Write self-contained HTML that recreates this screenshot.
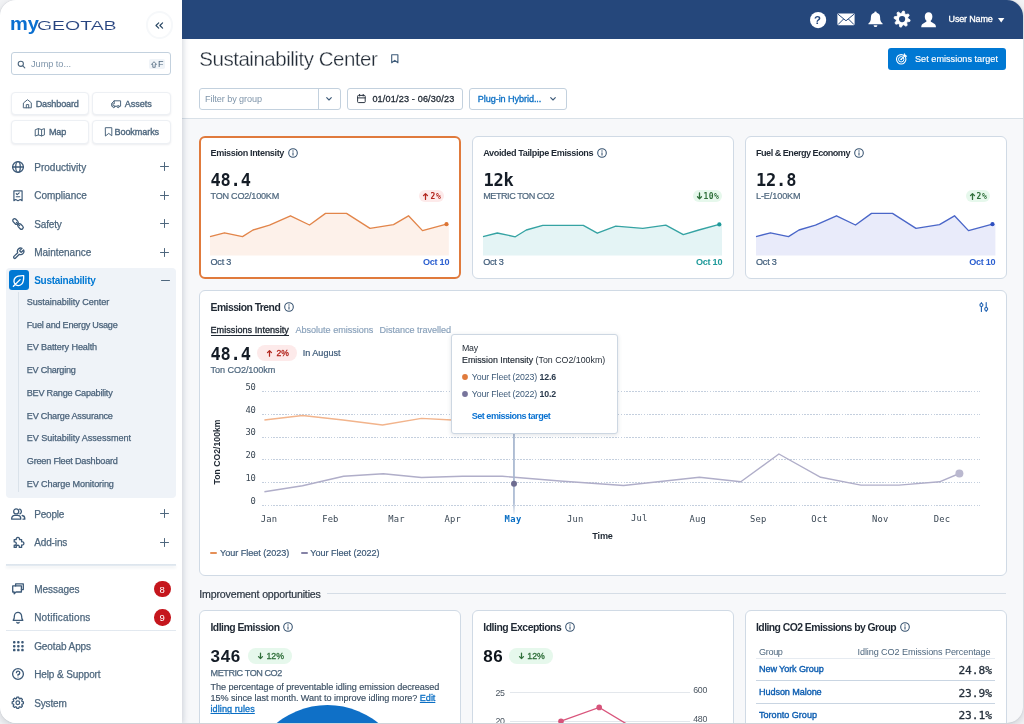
<!DOCTYPE html>
<html lang="en"><head><meta charset="utf-8"><title>Sustainability Center</title>
<style>
html,body{margin:0;padding:0}
body{width:1024px;height:724px;overflow:hidden;position:relative;background:#f3f4f6;font-family:"Liberation Sans",sans-serif;-webkit-font-smoothing:antialiased}
svg{overflow:visible}
</style></head><body>
<div style="position:absolute;left:0;top:0;width:1023px;height:722.5px;border-radius:16px;overflow:hidden;background:#f7f8fa;box-shadow:0 3px 8px rgba(50,60,80,.20),0 0 1.5px rgba(50,60,80,.18)">
<div style="position:absolute;left:182px;top:39px;width:842px;height:79px;background:#fff;border-bottom:1px solid #d9e1e8"></div>
<div style="position:absolute;left:182px;top:0px;width:842px;height:39px;background:#25477b"></div>
<div style="position:absolute;left:0px;top:0px;width:182px;height:724px;background:#fff;box-shadow:1px 0 6px rgba(40,60,90,.22)"></div>
<span style='position:absolute;left:9.80px;top:12.00px;height:25px;line-height:25px;font:700 17.9px/25px "Liberation Sans",sans-serif;color:#0a6fd0;white-space:nowrap;transform:scaleX(1.1215);transform-origin:0 50%;'>my</span>
<span style='position:absolute;left:37.10px;top:16.00px;height:19px;line-height:19px;font:400 13.5px/19px "Liberation Sans",sans-serif;color:#26437f;white-space:nowrap;transform:scaleX(1.4403);transform-origin:0 50%;-webkit-text-stroke:0.12px #fff;'>GEOTAB</span>
<div style="position:absolute;left:145.6px;top:11.3px;width:23.4px;height:23.4px;border-radius:50%;border:2px solid #f6f8fa;background:#fff"></div>
<svg style="position:absolute;left:155.3px;top:21.6px;" width="8.6" height="7" viewBox="0 0 8.6 7" fill="none"><path d="M3.7 0.8 L1 3.5 L3.7 6.2 M7.6 0.8 L4.9 3.5 L7.6 6.2" stroke="#2c4a66" stroke-width="1.2" stroke-linecap="round" stroke-linejoin="round"/></svg>
<div style="position:absolute;left:11px;top:52px;width:158px;height:21px;border:1px solid #c3d1de;border-radius:3px;background:#fff"></div>
<svg style="position:absolute;left:17px;top:60px;" width="9" height="9" viewBox="0 0 9 9" fill="none"><circle cx="3.8" cy="3.8" r="2.6" stroke="#4e677e" stroke-width="1.1"/><path d="M5.8 5.8 L7.8 7.8" stroke="#4e677e" stroke-width="1.1" stroke-linecap="round"/></svg>
<span style='position:absolute;left:31.00px;top:57.70px;height:13px;line-height:13px;font:400 9.2px/13px "Liberation Sans",sans-serif;color:#7f95aa;white-space:nowrap;letter-spacing:-0.034px;'>Jump to...</span>
<div style="position:absolute;left:149px;top:59px;width:16px;height:10px;background:#f0f4f8;border-radius:2px"></div>
<svg style="position:absolute;left:151px;top:60.5px;" width="6" height="7" viewBox="0 0 6 7" fill="none"><path d="M3 0.7 L5.5 3.4 H4.2 V6.3 H1.8 V3.4 H0.5 Z" stroke="#4e677e" stroke-width="0.8" stroke-linejoin="round"/></svg>
<span style='position:absolute;left:158.00px;top:57.50px;height:13px;line-height:13px;font:400 9px/13px "Liberation Sans",sans-serif;color:#4e677e;white-space:nowrap;'>F</span>
<div style="position:absolute;left:10.9px;top:91.8px;width:76.6px;height:21px;border:1px solid #edf0f4;border-radius:4px;background:#fff;box-shadow:0 1px 2px rgba(40,60,90,.09)"></div>
<div style="position:absolute;left:92.2px;top:91.8px;width:76.6px;height:21px;border:1px solid #edf0f4;border-radius:4px;background:#fff;box-shadow:0 1px 2px rgba(40,60,90,.09)"></div>
<div style="position:absolute;left:10.9px;top:120.4px;width:76.6px;height:21.4px;border:1px solid #edf0f4;border-radius:4px;background:#fff;box-shadow:0 1px 2px rgba(40,60,90,.09)"></div>
<div style="position:absolute;left:92.2px;top:120.4px;width:76.6px;height:21.4px;border:1px solid #edf0f4;border-radius:4px;background:#fff;box-shadow:0 1px 2px rgba(40,60,90,.09)"></div>
<svg style="position:absolute;left:23px;top:99px;" width="9" height="9.5" viewBox="0 0 9 9.5" fill="none"><path d="M0.7 3.8 L4.5 0.7 L8.3 3.8 V8.8 H0.7 Z M3.3 8.8 V5.6 H5.7 V8.8" stroke="#4e677e" stroke-width="1" stroke-linecap="round" stroke-linejoin="round"/></svg>
<span style='position:absolute;left:35.70px;top:97.70px;height:13px;line-height:13px;font:400 9.1px/13px "Liberation Sans",sans-serif;color:#4e677e;white-space:nowrap;letter-spacing:-0.167px;-webkit-text-stroke:0.35px #4e677e;'>Dashboard</span>
<svg style="position:absolute;left:111px;top:99.5px;" width="10.5" height="8.5" viewBox="0 0 10.5 8.5" fill="none"><path d="M3.2 0.8 H9.6 V6.2 H8.6 M5.8 6.2 H3.9 M1.6 6.2 H0.7 V3.4 L3.2 0.8 V4 H0.9" stroke="#4e677e" stroke-width="1" stroke-linecap="round" stroke-linejoin="round"/><circle cx="2.8" cy="6.6" r="1.1" stroke="#4e677e" stroke-width="1" stroke-linecap="round" stroke-linejoin="round"/><circle cx="7.2" cy="6.6" r="1.1" stroke="#4e677e" stroke-width="1" stroke-linecap="round" stroke-linejoin="round"/></svg>
<span style='position:absolute;left:124.70px;top:97.70px;height:13px;line-height:13px;font:400 9.1px/13px "Liberation Sans",sans-serif;color:#4e677e;white-space:nowrap;letter-spacing:-0.049px;-webkit-text-stroke:0.35px #4e677e;'>Assets</span>
<svg style="position:absolute;left:35px;top:127.5px;" width="10" height="8.5" viewBox="0 0 10 8.5" fill="none"><path d="M0.6 1.6 L3.4 0.6 L6.6 1.6 L9.4 0.6 V6.9 L6.6 7.9 L3.4 6.9 L0.6 7.9 Z M3.4 0.6 V6.9 M6.6 1.6 V7.9" stroke="#4e677e" stroke-width="1" stroke-linecap="round" stroke-linejoin="round"/></svg>
<span style='position:absolute;left:49.00px;top:126.00px;height:13px;line-height:13px;font:400 9.1px/13px "Liberation Sans",sans-serif;color:#4e677e;white-space:nowrap;letter-spacing:-0.234px;-webkit-text-stroke:0.35px #4e677e;'>Map</span>
<svg style="position:absolute;left:104.6px;top:127px;" width="7.5" height="9.5" viewBox="0 0 7.5 9.5" fill="none"><path d="M0.7 0.7 H6.8 V8.8 L3.75 6.4 L0.7 8.8 Z" stroke="#4e677e" stroke-width="1" stroke-linecap="round" stroke-linejoin="round"/></svg>
<span style='position:absolute;left:114.50px;top:126.00px;height:13px;line-height:13px;font:400 9.1px/13px "Liberation Sans",sans-serif;color:#4e677e;white-space:nowrap;letter-spacing:-0.109px;-webkit-text-stroke:0.35px #4e677e;'>Bookmarks</span>
<svg style="position:absolute;left:11.9px;top:160.6px;" width="12" height="12" viewBox="0 0 12 12" fill="none"><circle cx="6" cy="6" r="5.4" stroke="#3d5a78" stroke-width="1.3" stroke-linecap="round" stroke-linejoin="round"/><ellipse cx="6" cy="6" rx="2.3" ry="5.4" stroke="#3d5a78" stroke-width="1.3" stroke-linecap="round" stroke-linejoin="round"/><path d="M0.6 6 H11.4" stroke="#3d5a78" stroke-width="1.3" stroke-linecap="round" stroke-linejoin="round"/></svg>
<span style='position:absolute;left:34.20px;top:160.50px;height:14px;line-height:14px;font:400 10px/14px "Liberation Sans",sans-serif;color:#4e677e;white-space:nowrap;letter-spacing:0.026px;-webkit-text-stroke:0.25px #4e677e;'>Productivity</span>
<svg style="position:absolute;left:159.9px;top:162.25px;" width="9" height="9" viewBox="0 0 9 9" fill="none"><path d="M4.5 0.5 V8.5 M0.5 4.5 H8.5" stroke="#4e677e" stroke-width="1" stroke-linecap="round"/></svg>
<svg style="position:absolute;left:13.0px;top:190.0px;" width="10" height="11.6" viewBox="0 0 11 12.5" fill="none"><path d="M1 0.8 H10 V11.6 L8 10.3 L5.5 11.6 L3 10.3 L1 11.6 Z" stroke="#3d5a78" stroke-width="1.3" stroke-linecap="round" stroke-linejoin="round"/><path d="M3.6 4 L4.6 5 L6.8 3 M3.6 7.3 H7.4" stroke="#3d5a78" stroke-width="1.3" stroke-linecap="round" stroke-linejoin="round"/></svg>
<span style='position:absolute;left:34.20px;top:189.00px;height:14px;line-height:14px;font:400 10px/14px "Liberation Sans",sans-serif;color:#4e677e;white-space:nowrap;letter-spacing:-0.031px;-webkit-text-stroke:0.25px #4e677e;'>Compliance</span>
<svg style="position:absolute;left:159.9px;top:190.75px;" width="9" height="9" viewBox="0 0 9 9" fill="none"><path d="M4.5 0.5 V8.5 M0.5 4.5 H8.5" stroke="#4e677e" stroke-width="1" stroke-linecap="round"/></svg>
<svg style="position:absolute;left:11.9px;top:217.5px;" width="12" height="12" viewBox="0 0 12 12" fill="none"><rect x="0.4" y="1.7" width="6.2" height="3.6" rx="1.8" transform="rotate(45 3.5 3.5)" stroke="#3d5a78" stroke-width="1.3" stroke-linecap="round" stroke-linejoin="round"/><rect x="5.4" y="6.7" width="6.2" height="3.6" rx="1.8" transform="rotate(45 8.5 8.5)" stroke="#3d5a78" stroke-width="1.3" stroke-linecap="round" stroke-linejoin="round"/><path d="M4.4 4.4 L7.6 7.6" stroke="#3d5a78" stroke-width="1.3" stroke-linecap="round" stroke-linejoin="round"/></svg>
<span style='position:absolute;left:34.20px;top:217.50px;height:14px;line-height:14px;font:400 10px/14px "Liberation Sans",sans-serif;color:#4e677e;white-space:nowrap;letter-spacing:-0.143px;-webkit-text-stroke:0.25px #4e677e;'>Safety</span>
<svg style="position:absolute;left:159.9px;top:219.25px;" width="9" height="9" viewBox="0 0 9 9" fill="none"><path d="M4.5 0.5 V8.5 M0.5 4.5 H8.5" stroke="#4e677e" stroke-width="1" stroke-linecap="round"/></svg>
<svg style="position:absolute;left:11.6px;top:246.5px;" width="13" height="13" viewBox="0 0 24 24" fill="none"><path d="M14.7 6.3a1 1 0 0 0 0 1.4l1.6 1.6a1 1 0 0 0 1.4 0l3.77-3.77a6 6 0 0 1-7.94 7.94l-6.91 6.91a2.12 2.12 0 0 1-3-3l6.91-6.91a6 6 0 0 1 7.94-7.94l-3.76 3.76z" stroke="#3d5a78" stroke-width="2.4" stroke-linecap="round" stroke-linejoin="round"/></svg>
<span style='position:absolute;left:34.20px;top:245.80px;height:14px;line-height:14px;font:400 10px/14px "Liberation Sans",sans-serif;color:#4e677e;white-space:nowrap;letter-spacing:-0.024px;-webkit-text-stroke:0.25px #4e677e;'>Maintenance</span>
<svg style="position:absolute;left:159.9px;top:247.5px;" width="9" height="9" viewBox="0 0 9 9" fill="none"><path d="M4.5 0.5 V8.5 M0.5 4.5 H8.5" stroke="#4e677e" stroke-width="1" stroke-linecap="round"/></svg>
<div style="position:absolute;left:6px;top:268px;width:170px;height:230px;background:#eff3f8;border-radius:4px"></div>
<div style="position:absolute;left:8.5px;top:270.2px;width:20px;height:20px;background:#0078d3;border-radius:3px"></div>
<svg style="position:absolute;left:12.1px;top:273.6px;" width="13.4" height="13.4" viewBox="0 0 12.6 12.6" fill="none"><path d="M3.3 10.1 A4.7 4.7 0 0 1 3.1 3.5 C4.8 1.8 7.8 1.5 11.0 1.6 C11.1 4.8 10.8 7.8 9.1 9.5 A4.7 4.7 0 0 1 3.3 10.1 Z M1.3 11.6 L7.6 5.3" stroke="#fff" stroke-width="1.25" stroke-linecap="round" stroke-linejoin="round"/></svg>
<span style='position:absolute;left:34.20px;top:274.20px;height:14px;line-height:14px;font:700 10px/14px "Liberation Sans",sans-serif;color:#0078d3;white-space:nowrap;letter-spacing:-0.265px;'>Sustainability</span>
<svg style="position:absolute;left:160.5px;top:276px;" width="9" height="9" viewBox="0 0 9 9" fill="none"><path d="M0.5 4.5 H8.5" stroke="#4e677e" stroke-width="1" stroke-linecap="round"/></svg>
<div style="position:absolute;left:17.8px;top:292px;width:1.3px;height:200px;background:#dae2ea"></div>
<span style='position:absolute;left:26.75px;top:295.80px;height:13px;line-height:13px;font:400 9.1px/13px "Liberation Sans",sans-serif;color:#4a627a;white-space:nowrap;letter-spacing:-0.043px;-webkit-text-stroke:0.25px #4a627a;'>Sustainability Center</span>
<span style='position:absolute;left:26.75px;top:318.55px;height:13px;line-height:13px;font:400 9.1px/13px "Liberation Sans",sans-serif;color:#4a627a;white-space:nowrap;letter-spacing:-0.228px;-webkit-text-stroke:0.25px #4a627a;'>Fuel and Energy Usage</span>
<span style='position:absolute;left:26.75px;top:341.30px;height:13px;line-height:13px;font:400 9.1px/13px "Liberation Sans",sans-serif;color:#4a627a;white-space:nowrap;letter-spacing:-0.119px;-webkit-text-stroke:0.25px #4a627a;'>EV Battery Health</span>
<span style='position:absolute;left:26.75px;top:364.05px;height:13px;line-height:13px;font:400 9.1px/13px "Liberation Sans",sans-serif;color:#4a627a;white-space:nowrap;letter-spacing:-0.256px;-webkit-text-stroke:0.25px #4a627a;'>EV Charging</span>
<span style='position:absolute;left:26.75px;top:386.80px;height:13px;line-height:13px;font:400 9.1px/13px "Liberation Sans",sans-serif;color:#4a627a;white-space:nowrap;letter-spacing:-0.212px;-webkit-text-stroke:0.25px #4a627a;'>BEV Range Capability</span>
<span style='position:absolute;left:26.75px;top:409.55px;height:13px;line-height:13px;font:400 9.1px/13px "Liberation Sans",sans-serif;color:#4a627a;white-space:nowrap;letter-spacing:-0.183px;-webkit-text-stroke:0.25px #4a627a;'>EV Charge Assurance</span>
<span style='position:absolute;left:26.75px;top:432.30px;height:13px;line-height:13px;font:400 9.1px/13px "Liberation Sans",sans-serif;color:#4a627a;white-space:nowrap;letter-spacing:-0.036px;-webkit-text-stroke:0.25px #4a627a;'>EV Suitability Assessment</span>
<span style='position:absolute;left:26.75px;top:455.05px;height:13px;line-height:13px;font:400 9.1px/13px "Liberation Sans",sans-serif;color:#4a627a;white-space:nowrap;letter-spacing:-0.193px;-webkit-text-stroke:0.25px #4a627a;'>Green Fleet Dashboard</span>
<span style='position:absolute;left:26.75px;top:477.80px;height:13px;line-height:13px;font:400 9.1px/13px "Liberation Sans",sans-serif;color:#4a627a;white-space:nowrap;letter-spacing:-0.123px;-webkit-text-stroke:0.25px #4a627a;'>EV Charge Monitoring</span>
<svg style="position:absolute;left:11px;top:507.5px;" width="14.5" height="12" viewBox="0 0 14.5 12" fill="none"><circle cx="5.2" cy="3.4" r="2.5" stroke="#3d5a78" stroke-width="1.3" stroke-linecap="round" stroke-linejoin="round"/><path d="M0.7 11.2 V10.3 A3 3 0 0 1 3.7 7.3 H6.7 A3 3 0 0 1 9.7 10.3 V11.2 Z" stroke="#3d5a78" stroke-width="1.3" stroke-linecap="round" stroke-linejoin="round"/><path d="M8.6 1.1 A2.5 2.5 0 0 1 8.9 5.8 M11.2 7.5 A3 3 0 0 1 13.8 10.4 V11.2 H12" stroke="#3d5a78" stroke-width="1.3" stroke-linecap="round" stroke-linejoin="round"/></svg>
<span style='position:absolute;left:34.20px;top:507.50px;height:14px;line-height:14px;font:400 10px/14px "Liberation Sans",sans-serif;color:#4e677e;white-space:nowrap;letter-spacing:-0.190px;-webkit-text-stroke:0.25px #4e677e;'>People</span>
<svg style="position:absolute;left:159.9px;top:509.25px;" width="9" height="9" viewBox="0 0 9 9" fill="none"><path d="M4.5 0.5 V8.5 M0.5 4.5 H8.5" stroke="#4e677e" stroke-width="1" stroke-linecap="round"/></svg>
<svg style="position:absolute;left:11.9px;top:535.5px;" width="12.5" height="12.5" viewBox="0 0 12.5 12.5" fill="none"><path d="M2.2 3.6 H4.3 A1.7 1.7 0 1 1 7.5 3.6 H9.6 V5.8 A1.7 1.7 0 1 1 9.6 9 V11.4 H7.3 A1.6 1.6 0 1 0 4.3 11.4 H2.2 V9.2 A1.7 1.7 0 1 0 2.2 5.9 Z" stroke="#3d5a78" stroke-width="1.3" stroke-linecap="round" stroke-linejoin="round"/></svg>
<span style='position:absolute;left:34.20px;top:535.90px;height:14px;line-height:14px;font:400 10px/14px "Liberation Sans",sans-serif;color:#4e677e;white-space:nowrap;letter-spacing:-0.129px;-webkit-text-stroke:0.25px #4e677e;'>Add-ins</span>
<svg style="position:absolute;left:159.9px;top:537.75px;" width="9" height="9" viewBox="0 0 9 9" fill="none"><path d="M4.5 0.5 V8.5 M0.5 4.5 H8.5" stroke="#4e677e" stroke-width="1" stroke-linecap="round"/></svg>
<div style="position:absolute;left:6px;top:564.3px;width:170px;height:1.6px;background:linear-gradient(#dbe3ec,#e6ecf2);box-shadow:0 2px 3px rgba(40,60,90,.08)"></div>
<svg style="position:absolute;left:11.9px;top:583px;" width="12" height="11.5" viewBox="0 0 12 11.5" fill="none"><path d="M3.6 2.9 V0.8 H11.3 V6.6 H9.4" stroke="#3d5a78" stroke-width="1.3" stroke-linecap="round" stroke-linejoin="round"/><path d="M0.7 2.9 H9.4 V9 H4 L2.2 10.7 V9 H0.7 Z" stroke="#3d5a78" stroke-width="1.3" stroke-linecap="round" stroke-linejoin="round"/></svg>
<span style='position:absolute;left:34.20px;top:582.90px;height:14px;line-height:14px;font:400 10px/14px "Liberation Sans",sans-serif;color:#4e677e;white-space:nowrap;letter-spacing:-0.035px;-webkit-text-stroke:0.25px #4e677e;'>Messages</span>
<div style="position:absolute;left:154px;top:580.75px;width:16.5px;height:16.5px;border-radius:50%;background:#c5161d"></div>
<span style='position:absolute;left:159.60px;top:582.60px;height:13px;line-height:13px;font:400 9.5px/13px "Liberation Sans",sans-serif;color:#fff;white-space:nowrap;'>8</span>
<svg style="position:absolute;left:11.9px;top:611px;" width="12" height="12.5" viewBox="0 0 12 12.5" fill="none"><path d="M1.2 9.3 C2.4 8.2 2.4 7.2 2.4 5 A3.6 3.6 0 0 1 9.6 5 C9.6 7.2 9.6 8.2 10.8 9.3 Z M4.8 11.3 A1.3 1.3 0 0 0 7.2 11.3" stroke="#3d5a78" stroke-width="1.3" stroke-linecap="round" stroke-linejoin="round"/></svg>
<span style='position:absolute;left:34.20px;top:611.20px;height:14px;line-height:14px;font:400 10px/14px "Liberation Sans",sans-serif;color:#4e677e;white-space:nowrap;letter-spacing:0.141px;-webkit-text-stroke:0.25px #4e677e;'>Notifications</span>
<div style="position:absolute;left:154px;top:609px;width:16.5px;height:16.5px;border-radius:50%;background:#c5161d"></div>
<span style='position:absolute;left:159.60px;top:610.90px;height:13px;line-height:13px;font:400 9.5px/13px "Liberation Sans",sans-serif;color:#fff;white-space:nowrap;'>9</span>
<div style="position:absolute;left:6px;top:629.8px;width:170px;height:1.6px;background:linear-gradient(#dbe3ec,#e9eef3)"></div>
<svg style="position:absolute;left:13.1px;top:640.8px;" width="12" height="12" viewBox="0 0 12 12" fill="none"><rect x="0.00" y="0.00" width="2.5" height="2.5" rx="0.9" fill="#3d5a78"/><rect x="0.00" y="3.90" width="2.5" height="2.5" rx="0.9" fill="#3d5a78"/><rect x="0.00" y="7.80" width="2.5" height="2.5" rx="0.9" fill="#3d5a78"/><rect x="4.10" y="0.00" width="2.5" height="2.5" rx="0.9" fill="#3d5a78"/><rect x="4.10" y="3.90" width="2.5" height="2.5" rx="0.9" fill="#3d5a78"/><rect x="4.10" y="7.80" width="2.5" height="2.5" rx="0.9" fill="#3d5a78"/><rect x="8.20" y="0.00" width="2.5" height="2.5" rx="0.9" fill="#3d5a78"/><rect x="8.20" y="3.90" width="2.5" height="2.5" rx="0.9" fill="#3d5a78"/><rect x="8.20" y="7.80" width="2.5" height="2.5" rx="0.9" fill="#3d5a78"/></svg>
<span style='position:absolute;left:34.20px;top:639.70px;height:14px;line-height:14px;font:400 10px/14px "Liberation Sans",sans-serif;color:#4e677e;white-space:nowrap;letter-spacing:-0.093px;-webkit-text-stroke:0.25px #4e677e;'>Geotab Apps</span>
<svg style="position:absolute;left:12.3px;top:668.3px;" width="12" height="12" viewBox="0 0 12 12" fill="none"><circle cx="6" cy="6" r="5.4" stroke="#3d5a78" stroke-width="1.3" stroke-linecap="round" stroke-linejoin="round"/><path d="M4.4 4.7 A1.7 1.7 0 1 1 6 6.5 V7.3" stroke="#3d5a78" stroke-width="1.3" stroke-linecap="round" stroke-linejoin="round"/><circle cx="6" cy="9" r="0.6" fill="#3d5a78"/></svg>
<span style='position:absolute;left:34.20px;top:668.00px;height:14px;line-height:14px;font:400 10px/14px "Liberation Sans",sans-serif;color:#4e677e;white-space:nowrap;letter-spacing:-0.109px;-webkit-text-stroke:0.25px #4e677e;'>Help &amp; Support</span>
<svg style="position:absolute;left:12.4px;top:697.0px;" width="11.6" height="11.6" viewBox="0 0 12 12" fill="none"><path d="M4.64 1.61 L5.00 0.19 L7.00 0.19 L7.36 1.61 L8.15 1.93 L9.41 1.18 L10.82 2.59 L10.07 3.85 L10.39 4.64 L11.81 5.00 L11.81 7.00 L10.39 7.36 L10.07 8.15 L10.82 9.41 L9.41 10.82 L8.15 10.07 L7.36 10.39 L7.00 11.81 L5.00 11.81 L4.64 10.39 L3.85 10.07 L2.59 10.82 L1.18 9.41 L1.93 8.15 L1.61 7.36 L0.19 7.00 L0.19 5.00 L1.61 4.64 L1.93 3.85 L1.18 2.59 L2.59 1.18 L3.85 1.93 Z" stroke="#3d5a78" stroke-width="1.3" stroke-linecap="round" stroke-linejoin="round"/><circle cx="6" cy="6" r="1.9" stroke="#3d5a78" stroke-width="1.3" stroke-linecap="round" stroke-linejoin="round"/></svg>
<span style='position:absolute;left:34.20px;top:696.60px;height:14px;line-height:14px;font:400 10px/14px "Liberation Sans",sans-serif;color:#4e677e;white-space:nowrap;letter-spacing:-0.141px;-webkit-text-stroke:0.25px #4e677e;'>System</span>
<svg style="position:absolute;left:809.5px;top:11.7px;" width="16.2" height="16.2" viewBox="0 0 16.2 16.2" fill="none"><circle cx="8.1" cy="8.1" r="8.1" fill="#fff"/></svg>
<span style='position:absolute;left:814.12px;top:11.90px;height:16px;line-height:16px;font:700 11.4px/16px "Liberation Sans",sans-serif;color:#25477b;white-space:nowrap;'>?</span>
<svg style="position:absolute;left:837.2px;top:12.6px;" width="18" height="12.6" viewBox="0 0 18 12.6" fill="none"><rect x="0.4" y="0.4" width="17.2" height="11.8" rx="1" fill="#fff"/><path d="M1 1.2 L9 7.8 L17 1.2 M1 11.6 L6.6 6 M17 11.6 L11.4 6" stroke="#25477b" stroke-width="1" fill="none"/></svg>
<svg style="position:absolute;left:867.5px;top:11.2px;" width="15" height="16.5" viewBox="0 0 15 16.5" fill="none"><path d="M7.5 0.4 A1.2 1.2 0 0 1 8.7 1.7 A4.6 4.6 0 0 1 12.1 6.2 C12.1 10 13 11.2 14.6 12.4 V13.2 H0.4 V12.4 C2 11.2 2.9 10 2.9 6.2 A4.6 4.6 0 0 1 6.3 1.7 A1.2 1.2 0 0 1 7.5 0.4 Z M5.6 14.2 H9.4 A1.9 1.9 0 0 1 5.6 14.2 Z" fill="#fff"/></svg>
<svg style="position:absolute;left:894.3px;top:11.4px;" width="16.2" height="16.2" viewBox="0 0 16.2 16.2" fill="none"><path d="M8.89 0.04 L10.45 0.35 L10.88 2.90 L11.84 3.54 L14.36 2.96 L15.24 4.28 L13.75 6.39 L13.97 7.52 L16.16 8.89 L15.85 10.45 L13.30 10.88 L12.66 11.84 L13.24 14.36 L11.92 15.24 L9.81 13.75 L8.68 13.97 L7.31 16.16 L5.75 15.85 L5.32 13.30 L4.36 12.66 L1.84 13.24 L0.96 11.92 L2.45 9.81 L2.23 8.68 L0.04 7.31 L0.35 5.75 L2.90 5.32 L3.54 4.36 L2.96 1.84 L4.28 0.96 L6.39 2.45 L7.52 2.23 Z" fill="#fff" stroke="#fff" stroke-width="0.8" stroke-linejoin="round"/><circle cx="8.1" cy="8.1" r="3.1" fill="#25477b"/></svg>
<svg style="position:absolute;left:921.2px;top:11.6px;" width="15.2" height="15.4" viewBox="0 0 15.2 15.4" fill="none"><path d="M7.6 0.2 C10 0.2 11.4 2 11.4 4.4 C11.4 6.4 10.6 8 9.6 8.8 C9.8 9.8 10.4 10.2 12 10.9 C14 11.7 15 12.8 15 15.2 H0.2 C0.2 12.8 1.2 11.7 3.2 10.9 C4.8 10.2 5.4 9.8 5.6 8.8 C4.6 8 3.8 6.4 3.8 4.4 C3.8 2 5.2 0.2 7.6 0.2 Z" fill="#fff"/></svg>
<span style='position:absolute;left:948.60px;top:12.90px;height:13px;line-height:13px;font:400 9px/13px "Liberation Sans",sans-serif;color:#fff;white-space:nowrap;letter-spacing:-0.168px;-webkit-text-stroke:0.3px #fff;'>User Name</span>
<svg style="position:absolute;left:998px;top:17.6px;" width="6.4" height="4.4" viewBox="0 0 6.4 4.4" fill="none"><path d="M0 0 H6.4 L3.2 4.4 Z" fill="#fff"/></svg>
<div style="position:absolute;left:888.1px;top:47.9px;width:118px;height:22.2px;background:#0078d3;border-radius:3px"></div>
<svg style="position:absolute;left:895.8px;top:52.8px;" width="11.5" height="11.5" viewBox="0 0 11.5 11.5" fill="none"><circle cx="5.2" cy="6.3" r="4.7" stroke="#fff" stroke-width="1.1"/><circle cx="5.2" cy="6.3" r="2.7" stroke="#fff" stroke-width="1"/><circle cx="5.2" cy="6.3" r="0.9" fill="#fff"/><path d="M5.2 6.3 L9.4 2.1 M8.4 0.9 V3.1 H10.6" stroke="#fff" stroke-width="1.1" stroke-linecap="round" stroke-linejoin="round"/></svg>
<span style='position:absolute;left:915.00px;top:52.90px;height:13px;line-height:13px;font:400 9.1px/13px "Liberation Sans",sans-serif;color:#fff;white-space:nowrap;letter-spacing:0.030px;-webkit-text-stroke:0.15px #fff;'>Set emissions target</span>
<span style='position:absolute;left:199.30px;top:44.30px;height:30px;line-height:30px;font:400 20.5px/30px "Liberation Sans",sans-serif;color:#232c37;white-space:nowrap;letter-spacing:-0.477px;-webkit-text-stroke:0.3px #fff;'>Sustainability Center</span>
<svg style="position:absolute;left:391.2px;top:54.4px;" width="7.6" height="9.6" viewBox="0 0 7.6 9.6" fill="none"><path d="M0.7 0.7 H6.9 V8.8 L3.8 6.4 L0.7 8.8 Z" stroke="#3d5a78" stroke-width="1.1" stroke-linejoin="round"/></svg>
<div style="position:absolute;left:199.3px;top:87.8px;width:141.7px;height:22.4px;border:1px solid #c3d1de;border-radius:3px;background:#fff;box-sizing:border-box"></div>
<div style="position:absolute;left:317.8px;top:88.3px;width:1px;height:21.4px;background:#c3d1de"></div>
<span style='position:absolute;left:205.00px;top:92.60px;height:13px;line-height:13px;font:400 9.1px/13px "Liberation Sans",sans-serif;color:#7f95aa;white-space:nowrap;letter-spacing:-0.075px;'>Filter by group</span>
<svg style="position:absolute;left:326.4px;top:97.3px;" width="6" height="4" viewBox="0 0 6 4" fill="none"><path d="M0.7 0.7 L3 3 L5.3 0.7" stroke="#3d5a78" stroke-width="1.1" stroke-linecap="round" stroke-linejoin="round"/></svg>
<div style="position:absolute;left:347px;top:87.8px;width:116.2px;height:22.4px;border:1px solid #c3d1de;border-radius:3px;background:#fff;box-sizing:border-box"></div>
<svg style="position:absolute;left:356.8px;top:94.4px;" width="8.8" height="9.2" viewBox="0 0 8.8 9.2" fill="none"><rect x="0.6" y="1.4" width="7.6" height="7.2" rx="0.9" stroke="#2a3440" stroke-width="1"/><path d="M0.6 3.9 H8.2 M2.6 0.4 V2 M6.2 0.4 V2" stroke="#2a3440" stroke-width="1" stroke-linecap="round"/></svg>
<span style='position:absolute;left:372.40px;top:92.60px;height:13px;line-height:13px;font:400 9.1px/13px "Liberation Sans",sans-serif;color:#1f2833;white-space:nowrap;letter-spacing:0.164px;-webkit-text-stroke:0.3px #1f2833;'>01/01/23 - 06/30/23</span>
<div style="position:absolute;left:469px;top:87.8px;width:98px;height:22.4px;border:1px solid #c3d1de;border-radius:3px;background:#fff;box-sizing:border-box"></div>
<span style='position:absolute;left:477.80px;top:92.60px;height:13px;line-height:13px;font:400 9.1px/13px "Liberation Sans",sans-serif;color:#0b6fc4;white-space:nowrap;letter-spacing:-0.071px;-webkit-text-stroke:0.3px #0b6fc4;'>Plug-in Hybrid...</span>
<svg style="position:absolute;left:550px;top:97.3px;" width="6" height="4" viewBox="0 0 6 4" fill="none"><path d="M0.7 0.7 L3 3 L5.3 0.7" stroke="#3d5a78" stroke-width="1.1" stroke-linecap="round" stroke-linejoin="round"/></svg>
<div style="position:absolute;left:198.8px;top:135.7px;width:262px;height:143.1px;background:#fff;border:2px solid #e07a3c;border-radius:6px;box-sizing:border-box"></div>
<span style='position:absolute;left:210.50px;top:146.50px;height:13px;line-height:13px;font:700 9.1px/13px "Liberation Sans",sans-serif;color:#1f2833;white-space:nowrap;letter-spacing:-0.381px;'>Emission Intensity</span>
<svg style="position:absolute;left:287.5px;top:147.9px;" width="10" height="10" viewBox="0 0 10 10" fill="none"><circle cx="5" cy="5" r="4.3" stroke="#34506e" stroke-width="1.05"/><path d="M5 4.7 V7.1" stroke="#34506e" stroke-width="1.05" stroke-linecap="round"/><circle cx="5" cy="3" r="0.65" fill="#34506e"/></svg>
<span style='position:absolute;left:210.50px;top:168.50px;height:22px;line-height:22px;font:700 17px/22px "DejaVu Sans Mono","Liberation Mono",monospace;color:#141c26;white-space:nowrap;letter-spacing:-0.188px;'>48.4</span>
<span style='position:absolute;left:210.50px;top:189.80px;height:13px;line-height:13px;font:400 9.1px/13px "Liberation Sans",sans-serif;color:#4e677e;white-space:nowrap;letter-spacing:-0.239px;-webkit-text-stroke:0.2px #4e677e;'>TON CO2/100KM</span>
<div style="position:absolute;left:418.9px;top:189.79999999999998px;width:25.400000000000034px;height:11.8px;background:#fdeaea;border-radius:5.9px"></div>
<svg style="position:absolute;left:423.4px;top:192.60000000000002px;" width="5" height="6.4" viewBox="0 0 5 6.4" fill="none"><path d="M2.5 6.4 V0.6 M0.5 2.6 L2.5 0.6 L4.5 2.6" stroke="#b3261e" stroke-width="1.3" stroke-linecap="round" stroke-linejoin="round"/></svg>
<span style='position:absolute;left:430.40px;top:190.60px;height:11px;line-height:11px;font:700 8px/11px "DejaVu Sans Mono","Liberation Mono",monospace;color:#b3261e;white-space:nowrap;letter-spacing:0.680px;'>2%</span>
<svg style="position:absolute;left:210.0px;top:208px;" width="238.8" height="47.5" viewBox="0 0 238.8 47.5" fill="none"><path d="M0.0 28.6 L14.5 24.8 L32.5 28.6 L43.0 22.0 L59.5 17.2 L80.5 7.8 L99.5 17.0 L115.5 5.4 L136.5 5.4 L160.0 20.4 L183.5 16.6 L198.5 7.8 L212.5 22.6 L236.5 16.2 L238.8 16.2 L238.8 47.5 L0 47.5 Z" fill="#fdf1ea"/><path d="M0.0 28.6 L14.5 24.8 L32.5 28.6 L43.0 22.0 L59.5 17.2 L80.5 7.8 L99.5 17.0 L115.5 5.4 L136.5 5.4 L160.0 20.4 L183.5 16.6 L198.5 7.8 L212.5 22.6 L236.5 16.2" stroke="#e2854a" stroke-width="1.35" stroke-linejoin="round" fill="none"/><circle cx="236.5" cy="16.2" r="2.1" fill="#dc7434"/></svg>
<span style='position:absolute;left:210.50px;top:255.60px;height:13px;line-height:13px;font:400 9.1px/13px "Liberation Sans",sans-serif;color:#3d5a78;white-space:nowrap;letter-spacing:-0.247px;-webkit-text-stroke:0.2px #3d5a78;'>Oct 3</span>
<span style='position:absolute;left:423.00px;top:255.60px;height:13px;line-height:13px;font:700 9.1px/13px "Liberation Sans",sans-serif;color:#2b5fd0;white-space:nowrap;letter-spacing:-0.269px;'>Oct 10</span>
<div style="position:absolute;left:471.8px;top:135.7px;width:262px;height:143.1px;background:#fff;border:1.4px solid #d0dae5;border-radius:6px;box-sizing:border-box"></div>
<span style='position:absolute;left:483.20px;top:146.50px;height:13px;line-height:13px;font:700 9.1px/13px "Liberation Sans",sans-serif;color:#1f2833;white-space:nowrap;letter-spacing:-0.376px;'>Avoided Tailpipe Emissions</span>
<svg style="position:absolute;left:596.9px;top:147.9px;" width="10" height="10" viewBox="0 0 10 10" fill="none"><circle cx="5" cy="5" r="4.3" stroke="#34506e" stroke-width="1.05"/><path d="M5 4.7 V7.1" stroke="#34506e" stroke-width="1.05" stroke-linecap="round"/><circle cx="5" cy="3" r="0.65" fill="#34506e"/></svg>
<span style='position:absolute;left:483.50px;top:168.50px;height:22px;line-height:22px;font:700 17px/22px "DejaVu Sans Mono","Liberation Mono",monospace;color:#141c26;white-space:nowrap;letter-spacing:-0.173px;'>12k</span>
<span style='position:absolute;left:483.20px;top:189.80px;height:13px;line-height:13px;font:400 9.1px/13px "Liberation Sans",sans-serif;color:#4e677e;white-space:nowrap;letter-spacing:-0.463px;-webkit-text-stroke:0.2px #4e677e;'>METRIC TON CO2</span>
<div style="position:absolute;left:692.5px;top:189.79999999999998px;width:29.700000000000045px;height:11.8px;background:#e6f8ec;border-radius:5.9px"></div>
<svg style="position:absolute;left:696.8px;top:192.60000000000002px;" width="5" height="6.4" viewBox="0 0 5 6.4" fill="none"><path d="M2.5 0 V5.800000000000001 M0.5 3.8000000000000003 L2.5 5.800000000000001 L4.5 3.8000000000000003" stroke="#2f6f3a" stroke-width="1.3" stroke-linecap="round" stroke-linejoin="round"/></svg>
<span style='position:absolute;left:703.40px;top:190.60px;height:11px;line-height:11px;font:700 8px/11px "DejaVu Sans Mono","Liberation Mono",monospace;color:#2f6f3a;white-space:nowrap;letter-spacing:0.516px;'>10%</span>
<svg style="position:absolute;left:483.2px;top:208px;" width="239.00000000000006" height="47.5" viewBox="0 0 239.00000000000006 47.5" fill="none"><path d="M0.0 28.6 L14.3 25.0 L32.3 28.8 L43.3 22.0 L59.8 17.4 L100.3 17.4 L114.3 25.2 L132.8 18.2 L159.8 20.4 L182.8 17.2 L200.3 26.6 L215.8 22.0 L236.3 16.4 L239.0 16.4 L239.0 47.5 L0 47.5 Z" fill="#e4f4f5"/><path d="M0.0 28.6 L14.3 25.0 L32.3 28.8 L43.3 22.0 L59.8 17.4 L100.3 17.4 L114.3 25.2 L132.8 18.2 L159.8 20.4 L182.8 17.2 L200.3 26.6 L215.8 22.0 L236.3 16.4" stroke="#35a3a3" stroke-width="1.35" stroke-linejoin="round" fill="none"/><circle cx="236.3" cy="16.4" r="2.1" fill="#1f9a9a"/></svg>
<span style='position:absolute;left:483.20px;top:255.60px;height:13px;line-height:13px;font:400 9.1px/13px "Liberation Sans",sans-serif;color:#3d5a78;white-space:nowrap;letter-spacing:-0.247px;-webkit-text-stroke:0.2px #3d5a78;'>Oct 3</span>
<span style='position:absolute;left:696.00px;top:255.60px;height:13px;line-height:13px;font:700 9.1px/13px "Liberation Sans",sans-serif;color:#1f9a9a;white-space:nowrap;letter-spacing:-0.269px;'>Oct 10</span>
<div style="position:absolute;left:744.8px;top:135.7px;width:262px;height:143.1px;background:#fff;border:1.4px solid #d0dae5;border-radius:6px;box-sizing:border-box"></div>
<span style='position:absolute;left:756.00px;top:146.50px;height:13px;line-height:13px;font:700 9.1px/13px "Liberation Sans",sans-serif;color:#1f2833;white-space:nowrap;letter-spacing:-0.505px;'>Fuel &amp; Energy Economy</span>
<svg style="position:absolute;left:854.2px;top:147.9px;" width="10" height="10" viewBox="0 0 10 10" fill="none"><circle cx="5" cy="5" r="4.3" stroke="#34506e" stroke-width="1.05"/><path d="M5 4.7 V7.1" stroke="#34506e" stroke-width="1.05" stroke-linecap="round"/><circle cx="5" cy="3" r="0.65" fill="#34506e"/></svg>
<span style='position:absolute;left:756.00px;top:168.50px;height:22px;line-height:22px;font:700 17px/22px "DejaVu Sans Mono","Liberation Mono",monospace;color:#141c26;white-space:nowrap;letter-spacing:-0.188px;'>12.8</span>
<span style='position:absolute;left:756.00px;top:189.80px;height:13px;line-height:13px;font:400 9.1px/13px "Liberation Sans",sans-serif;color:#4e677e;white-space:nowrap;letter-spacing:-0.111px;-webkit-text-stroke:0.2px #4e677e;'>L-E/100KM</span>
<div style="position:absolute;left:965.6px;top:189.79999999999998px;width:24.399999999999977px;height:11.8px;background:#e6f8ec;border-radius:5.9px"></div>
<svg style="position:absolute;left:969.8px;top:192.60000000000002px;" width="5" height="6.4" viewBox="0 0 5 6.4" fill="none"><path d="M2.5 6.4 V0.6 M0.5 2.6 L2.5 0.6 L4.5 2.6" stroke="#2f6f3a" stroke-width="1.3" stroke-linecap="round" stroke-linejoin="round"/></svg>
<span style='position:absolute;left:976.40px;top:190.60px;height:11px;line-height:11px;font:700 8px/11px "DejaVu Sans Mono","Liberation Mono",monospace;color:#2f6f3a;white-space:nowrap;letter-spacing:0.680px;'>2%</span>
<svg style="position:absolute;left:756px;top:208px;" width="239.39999999999998" height="47.5" viewBox="0 0 239.39999999999998 47.5" fill="none"><path d="M0.0 28.6 L14.5 24.8 L32.5 28.6 L43.0 22.0 L59.5 17.2 L80.5 7.8 L99.5 17.0 L115.5 5.4 L136.5 5.4 L160.0 20.4 L183.5 16.6 L198.5 7.8 L212.5 22.6 L236.5 16.2 L239.4 16.2 L239.4 47.5 L0 47.5 Z" fill="#e9ebfa"/><path d="M0.0 28.6 L14.5 24.8 L32.5 28.6 L43.0 22.0 L59.5 17.2 L80.5 7.8 L99.5 17.0 L115.5 5.4 L136.5 5.4 L160.0 20.4 L183.5 16.6 L198.5 7.8 L212.5 22.6 L236.5 16.2" stroke="#4a66c8" stroke-width="1.35" stroke-linejoin="round" fill="none"/><circle cx="236.5" cy="16.2" r="2.1" fill="#2f4fc0"/></svg>
<span style='position:absolute;left:756.00px;top:255.60px;height:13px;line-height:13px;font:400 9.1px/13px "Liberation Sans",sans-serif;color:#3d5a78;white-space:nowrap;letter-spacing:-0.247px;-webkit-text-stroke:0.2px #3d5a78;'>Oct 3</span>
<span style='position:absolute;left:969.20px;top:255.60px;height:13px;line-height:13px;font:700 9.1px/13px "Liberation Sans",sans-serif;color:#2b5fd0;white-space:nowrap;letter-spacing:-0.269px;'>Oct 10</span>
<div style="position:absolute;left:198.8px;top:289.8px;width:808px;height:286.3px;background:#fff;border:1.4px solid #d0dae5;border-radius:6px;box-sizing:border-box"></div>
<span style='position:absolute;left:210.50px;top:299.70px;height:15px;line-height:15px;font:700 10.4px/15px "Liberation Sans",sans-serif;color:#1f2833;white-space:nowrap;letter-spacing:-0.548px;'>Emission Trend</span>
<svg style="position:absolute;left:284.3px;top:302.1px;" width="10" height="10" viewBox="0 0 10 10" fill="none"><circle cx="5" cy="5" r="4.3" stroke="#34506e" stroke-width="1.05"/><path d="M5 4.7 V7.1" stroke="#34506e" stroke-width="1.05" stroke-linecap="round"/><circle cx="5" cy="3" r="0.65" fill="#34506e"/></svg>
<svg style="position:absolute;left:978.9px;top:302px;" width="9.6" height="10" viewBox="0 0 9.6 10" fill="none"><path d="M2.4 0.6 V9.4 M7.2 0.6 V9.4" stroke="#1c5fb0" stroke-width="1.1" stroke-linecap="round"/><circle cx="2.4" cy="3" r="1.5" fill="#fff" stroke="#1c5fb0" stroke-width="1.1"/><circle cx="7.2" cy="7" r="1.5" fill="#fff" stroke="#1c5fb0" stroke-width="1.1"/></svg>
<span style='position:absolute;left:210.50px;top:324.10px;height:13px;line-height:13px;font:400 9.1px/13px "Liberation Sans",sans-serif;color:#1f2833;white-space:nowrap;letter-spacing:0.029px;-webkit-text-stroke:0.35px #1f2833;'>Emissions Intensity</span>
<div style="position:absolute;left:210.5px;top:334.8px;width:78.4px;height:1.4px;background:#1f2833"></div>
<span style='position:absolute;left:295.40px;top:324.10px;height:13px;line-height:13px;font:400 9.1px/13px "Liberation Sans",sans-serif;color:#88a0ba;white-space:nowrap;letter-spacing:-0.020px;-webkit-text-stroke:0.15px #88a0ba;'>Absolute emissions</span>
<span style='position:absolute;left:379.50px;top:324.10px;height:13px;line-height:13px;font:400 9.1px/13px "Liberation Sans",sans-serif;color:#88a0ba;white-space:nowrap;letter-spacing:-0.049px;-webkit-text-stroke:0.15px #88a0ba;'>Distance travelled</span>
<span style='position:absolute;left:210.50px;top:342.50px;height:22px;line-height:22px;font:700 17px/22px "DejaVu Sans Mono","Liberation Mono",monospace;color:#141c26;white-space:nowrap;letter-spacing:-0.188px;'>48.4</span>
<div style="position:absolute;left:256.9px;top:344.90000000000003px;width:39.700000000000045px;height:16.4px;background:#fdeaea;border-radius:8.2px"></div>
<svg style="position:absolute;left:267.3px;top:350.0px;" width="5" height="6.2" viewBox="0 0 5 6.2" fill="none"><path d="M2.5 6.2 V0.6 M0.5 2.6 L2.5 0.6 L4.5 2.6" stroke="#b3261e" stroke-width="1.25" stroke-linecap="round" stroke-linejoin="round"/></svg>
<span style='position:absolute;left:276.60px;top:347.30px;height:12px;line-height:12px;font:400 8.6px/12px "Liberation Sans",sans-serif;color:#b3261e;white-space:nowrap;letter-spacing:-0.111px;-webkit-text-stroke:0.3px #b3261e;'>2%</span>
<span style='position:absolute;left:302.80px;top:346.70px;height:13px;line-height:13px;font:400 9.1px/13px "Liberation Sans",sans-serif;color:#3d5a78;white-space:nowrap;letter-spacing:-0.025px;-webkit-text-stroke:0.2px #3d5a78;'>In August</span>
<span style='position:absolute;left:210.50px;top:363.50px;height:13px;line-height:13px;font:400 9.1px/13px "Liberation Sans",sans-serif;color:#4e677e;white-space:nowrap;letter-spacing:-0.071px;-webkit-text-stroke:0.2px #4e677e;'>Ton CO2/100km</span>
<div style="position:absolute;left:262px;top:391px;width:718px;height:1px;background:repeating-linear-gradient(90deg,#c4cfde 0 1.6px,transparent 1.6px 2.87px)"></div>
<span style='position:absolute;left:245.40px;top:380.70px;height:12px;line-height:12px;font:400 8.8px/12px "DejaVu Sans Mono","Liberation Mono",monospace;color:#3a4754;white-space:nowrap;letter-spacing:-0.097px;'>50</span>
<div style="position:absolute;left:262px;top:414px;width:718px;height:1px;background:repeating-linear-gradient(90deg,#c4cfde 0 1.6px,transparent 1.6px 2.87px)"></div>
<span style='position:absolute;left:245.40px;top:403.50px;height:12px;line-height:12px;font:400 8.8px/12px "DejaVu Sans Mono","Liberation Mono",monospace;color:#3a4754;white-space:nowrap;letter-spacing:-0.097px;'>40</span>
<div style="position:absolute;left:262px;top:437px;width:718px;height:1px;background:repeating-linear-gradient(90deg,#c4cfde 0 1.6px,transparent 1.6px 2.87px)"></div>
<span style='position:absolute;left:245.40px;top:426.30px;height:12px;line-height:12px;font:400 8.8px/12px "DejaVu Sans Mono","Liberation Mono",monospace;color:#3a4754;white-space:nowrap;letter-spacing:-0.097px;'>30</span>
<div style="position:absolute;left:262px;top:459px;width:718px;height:1px;background:repeating-linear-gradient(90deg,#c4cfde 0 1.6px,transparent 1.6px 2.87px)"></div>
<span style='position:absolute;left:245.40px;top:449.10px;height:12px;line-height:12px;font:400 8.8px/12px "DejaVu Sans Mono","Liberation Mono",monospace;color:#3a4754;white-space:nowrap;letter-spacing:-0.097px;'>20</span>
<div style="position:absolute;left:262px;top:482px;width:718px;height:1px;background:repeating-linear-gradient(90deg,#c4cfde 0 1.6px,transparent 1.6px 2.87px)"></div>
<span style='position:absolute;left:245.40px;top:471.90px;height:12px;line-height:12px;font:400 8.8px/12px "DejaVu Sans Mono","Liberation Mono",monospace;color:#3a4754;white-space:nowrap;letter-spacing:-0.097px;'>10</span>
<div style="position:absolute;left:262px;top:505px;width:718px;height:1px;background:repeating-linear-gradient(90deg,#c4cfde 0 1.6px,transparent 1.6px 2.87px)"></div>
<span style='position:absolute;left:250.60px;top:494.70px;height:12px;line-height:12px;font:400 8.8px/12px "DejaVu Sans Mono","Liberation Mono",monospace;color:#3a4754;white-space:nowrap;letter-spacing:-0.097px;'>0</span>
<span style='position:absolute;left:183.90px;top:445.50px;height:12px;line-height:12px;font:700 8.6px/12px "Liberation Sans",sans-serif;color:#1f2833;white-space:nowrap;letter-spacing:0.052px;transform:rotate(-90deg);transform-origin:50% 50%;'>Ton CO2/100km</span>
<svg style="position:absolute;left:0px;top:0px;" width="1024" height="724" viewBox="0 0 1024 724" fill="none"><path d="M264.4 420.0 L302.5 415.5 L343.0 420.0 L382.5 425.0 L421.5 418.4 L452.0 420.0" stroke="#f2b48c" stroke-width="1.4" stroke-linejoin="round"/><path d="M264.4 491.8 L302.5 485.7 L343.6 476.2 L383.3 473.8 L421.5 477.5 L462.5 476.2 L502.3 476.2 L560.0 481.0 L623.6 485.5 L699.4 477.3 L740.8 481.8 L778.9 454.0 L820.7 477.3 L860.9 485.1 L899.0 485.1 L939.5 481.8 L959.4 473.5" stroke="#b0aec9" stroke-width="1.4" stroke-linejoin="round"/><circle cx="959.4" cy="473.5" r="4" fill="#bab8cf"/><defs><linearGradient id="hv" x1="0" y1="0" x2="0" y2="1"><stop offset="0" stop-color="#a3b3cc"/><stop offset="0.86" stop-color="#a9b9d2"/><stop offset="1" stop-color="#a9b9d2" stop-opacity="0.15"/></linearGradient></defs><rect x="513.1" y="434" width="1.7" height="80" fill="url(#hv)"/><circle cx="514" cy="483.8" r="3" fill="#6e6c90"/></svg>
<span style='position:absolute;left:260.80px;top:512.60px;height:12px;line-height:12px;font:400 8.8px/12px "DejaVu Sans Mono","Liberation Mono",monospace;color:#3a4754;white-space:nowrap;letter-spacing:0.170px;'>Jan</span>
<span style='position:absolute;left:322.20px;top:512.60px;height:12px;line-height:12px;font:400 8.8px/12px "DejaVu Sans Mono","Liberation Mono",monospace;color:#3a4754;white-space:nowrap;letter-spacing:0.170px;'>Feb</span>
<span style='position:absolute;left:388.30px;top:512.60px;height:12px;line-height:12px;font:400 8.8px/12px "DejaVu Sans Mono","Liberation Mono",monospace;color:#3a4754;white-space:nowrap;letter-spacing:0.170px;'>Mar</span>
<span style='position:absolute;left:444.50px;top:512.60px;height:12px;line-height:12px;font:400 8.8px/12px "DejaVu Sans Mono","Liberation Mono",monospace;color:#3a4754;white-space:nowrap;letter-spacing:0.170px;'>Apr</span>
<span style='position:absolute;left:504.60px;top:512.60px;height:12px;line-height:12px;font:700 8.8px/12px "DejaVu Sans Mono","Liberation Mono",monospace;color:#0b6fc4;white-space:nowrap;letter-spacing:0.436px;'>May</span>
<span style='position:absolute;left:567.10px;top:512.60px;height:12px;line-height:12px;font:400 8.8px/12px "DejaVu Sans Mono","Liberation Mono",monospace;color:#3a4754;white-space:nowrap;letter-spacing:0.170px;'>Jun</span>
<span style='position:absolute;left:631.10px;top:511.60px;height:12px;line-height:12px;font:400 8.8px/12px "DejaVu Sans Mono","Liberation Mono",monospace;color:#3a4754;white-space:nowrap;letter-spacing:0.170px;'>Jul</span>
<span style='position:absolute;left:689.50px;top:512.60px;height:12px;line-height:12px;font:400 8.8px/12px "DejaVu Sans Mono","Liberation Mono",monospace;color:#3a4754;white-space:nowrap;letter-spacing:0.170px;'>Aug</span>
<span style='position:absolute;left:750.00px;top:512.60px;height:12px;line-height:12px;font:400 8.8px/12px "DejaVu Sans Mono","Liberation Mono",monospace;color:#3a4754;white-space:nowrap;letter-spacing:0.170px;'>Sep</span>
<span style='position:absolute;left:811.30px;top:512.60px;height:12px;line-height:12px;font:400 8.8px/12px "DejaVu Sans Mono","Liberation Mono",monospace;color:#3a4754;white-space:nowrap;letter-spacing:0.170px;'>Oct</span>
<span style='position:absolute;left:872.10px;top:512.60px;height:12px;line-height:12px;font:400 8.8px/12px "DejaVu Sans Mono","Liberation Mono",monospace;color:#3a4754;white-space:nowrap;letter-spacing:0.170px;'>Nov</span>
<span style='position:absolute;left:933.80px;top:512.60px;height:12px;line-height:12px;font:400 8.8px/12px "DejaVu Sans Mono","Liberation Mono",monospace;color:#3a4754;white-space:nowrap;letter-spacing:0.170px;'>Dec</span>
<span style='position:absolute;left:592.25px;top:529.50px;height:13px;line-height:13px;font:700 9.1px/13px "Liberation Sans",sans-serif;color:#1f2833;white-space:nowrap;letter-spacing:-0.141px;'>Time</span>
<div style="position:absolute;left:210.3px;top:552px;width:7.2px;height:2px;background:#e58f57;border-radius:1px"></div>
<span style='position:absolute;left:220.00px;top:547.10px;height:13px;line-height:13px;font:400 9.1px/13px "Liberation Sans",sans-serif;color:#3d5a78;white-space:nowrap;letter-spacing:-0.038px;-webkit-text-stroke:0.2px #3d5a78;'>Your Fleet (2023)</span>
<div style="position:absolute;left:300.5px;top:552px;width:7.2px;height:2px;background:#8582a6;border-radius:1px"></div>
<span style='position:absolute;left:310.30px;top:547.10px;height:13px;line-height:13px;font:400 9.1px/13px "Liberation Sans",sans-serif;color:#3d5a78;white-space:nowrap;letter-spacing:-0.038px;-webkit-text-stroke:0.2px #3d5a78;'>Your Fleet (2022)</span>
<div style="position:absolute;left:451.3px;top:334.2px;width:166.6px;height:100.3px;background:#fff;border:1px solid #cdd7e2;border-radius:3px;box-sizing:border-box;box-shadow:0 1px 4px rgba(40,60,90,.15)"></div>
<span style='position:absolute;left:462.00px;top:342.30px;height:12px;line-height:12px;font:400 8.8px/12px "Liberation Sans",sans-serif;color:#1f2833;white-space:nowrap;letter-spacing:-0.208px;'>May</span>
<span style='position:absolute;left:462.00px;top:354.00px;height:12px;line-height:12px;font:400 8.8px/12px "Liberation Sans",sans-serif;color:#1f2833;white-space:nowrap;letter-spacing:0.013px;'><span style="-webkit-text-stroke:0.18px #1f2833">Emission Intensity</span> (Ton CO2/100km)</span>
<svg style="position:absolute;left:461.9px;top:374.0px;" width="6" height="6" viewBox="0 0 6 6" fill="none"><circle cx="3" cy="3" r="2.9" fill="#e07a3c"/></svg>
<span style='position:absolute;left:471.80px;top:371.00px;height:12px;line-height:12px;font:400 8.8px/12px "Liberation Sans",sans-serif;color:#3d5a78;white-space:nowrap;letter-spacing:-0.137px;'>Your Fleet (2023) <b style="color:#2a3a4c">12.6</b></span>
<svg style="position:absolute;left:461.9px;top:391.2px;" width="6" height="6" viewBox="0 0 6 6" fill="none"><circle cx="3" cy="3" r="2.9" fill="#77749b"/></svg>
<span style='position:absolute;left:471.80px;top:388.20px;height:12px;line-height:12px;font:400 8.8px/12px "Liberation Sans",sans-serif;color:#3d5a78;white-space:nowrap;letter-spacing:-0.137px;'>Your Fleet (2022) <b style="color:#2a3a4c">10.2</b></span>
<span style='position:absolute;left:471.80px;top:410.40px;height:13px;line-height:13px;font:700 9.1px/13px "Liberation Sans",sans-serif;color:#0a72d1;white-space:nowrap;letter-spacing:-0.528px;'>Set emissions target</span>
<span style='position:absolute;left:199.30px;top:586.90px;height:15px;line-height:15px;font:400 10.6px/15px "Liberation Sans",sans-serif;color:#2a3440;white-space:nowrap;letter-spacing:-0.161px;-webkit-text-stroke:0.2px #2a3440;'>Improvement opportunities</span>
<div style="position:absolute;left:327.4px;top:593.0px;width:678.6px;height:1px;background:#d5dde6"></div>
<div style="position:absolute;left:198.8px;top:609.9px;width:262px;height:130px;background:#fff;border:1.4px solid #d0dae5;border-radius:6px;box-sizing:border-box"></div>
<span style='position:absolute;left:210.50px;top:619.70px;height:15px;line-height:15px;font:700 10.4px/15px "Liberation Sans",sans-serif;color:#1f2833;white-space:nowrap;letter-spacing:-0.520px;'>Idling Emission</span>
<svg style="position:absolute;left:283.4px;top:622.1px;" width="10" height="10" viewBox="0 0 10 10" fill="none"><circle cx="5" cy="5" r="4.3" stroke="#34506e" stroke-width="1.05"/><path d="M5 4.7 V7.1" stroke="#34506e" stroke-width="1.05" stroke-linecap="round"/><circle cx="5" cy="3" r="0.65" fill="#34506e"/></svg>
<span style='position:absolute;left:210.50px;top:645.90px;height:22px;line-height:22px;font:700 17px/22px "Liberation Sans",sans-serif;color:#141c26;white-space:nowrap;letter-spacing:0.675px;'>346</span>
<div style="position:absolute;left:248.2px;top:648.0px;width:44.30000000000001px;height:15.6px;background:#e6f8ec;border-radius:7.8px"></div>
<svg style="position:absolute;left:258.4px;top:652.6999999999999px;" width="5" height="6.2" viewBox="0 0 5 6.2" fill="none"><path d="M2.5 0 V5.6000000000000005 M0.5 3.6 L2.5 5.6000000000000005 L4.5 3.6" stroke="#2f6f3a" stroke-width="1.25" stroke-linecap="round" stroke-linejoin="round"/></svg>
<span style='position:absolute;left:266.40px;top:650.00px;height:12px;line-height:12px;font:400 8.8px/12px "Liberation Sans",sans-serif;color:#2f6f3a;white-space:nowrap;letter-spacing:-0.003px;-webkit-text-stroke:0.3px #2f6f3a;'>12%</span>
<span style='position:absolute;left:210.50px;top:666.70px;height:13px;line-height:13px;font:400 9.1px/13px "Liberation Sans",sans-serif;color:#4e677e;white-space:nowrap;letter-spacing:-0.435px;-webkit-text-stroke:0.25px #4e677e;'>METRIC TON CO2</span>
<span style='position:absolute;left:210.50px;top:681.10px;height:13px;line-height:13px;font:400 9.1px/13px "Liberation Sans",sans-serif;color:#3a4e62;white-space:nowrap;letter-spacing:-0.039px;-webkit-text-stroke:0.15px #3a4e62;'>The percentage of preventable idling emission decreased</span>
<span style='position:absolute;left:210.50px;top:692.00px;height:13px;line-height:13px;font:400 9.1px/13px "Liberation Sans",sans-serif;color:#3a4e62;white-space:nowrap;letter-spacing:-0.051px;-webkit-text-stroke:0.15px #3a4e62;'>15% since last month. Want to improve idling more? <span style="color:#0b6fc4;text-decoration:underline;-webkit-text-stroke:0.3px #0b6fc4">Edit</span></span>
<span style='position:absolute;left:210.50px;top:703.30px;height:13px;line-height:13px;font:400 9.1px/13px "Liberation Sans",sans-serif;color:#0b6fc4;white-space:nowrap;letter-spacing:0.068px;text-decoration:underline;-webkit-text-stroke:0.3px #0b6fc4;'>idling rules</span>
<svg style="position:absolute;left:247.0px;top:705px;overflow:hidden" width="161" height="20" viewBox="0 0 161 20" fill="none"><circle cx="80.5" cy="80.5" r="80.5" fill="#0f70c7"/></svg>
<div style="position:absolute;left:471.8px;top:609.9px;width:262px;height:130px;background:#fff;border:1.4px solid #d0dae5;border-radius:6px;box-sizing:border-box"></div>
<span style='position:absolute;left:483.30px;top:619.70px;height:15px;line-height:15px;font:700 10.4px/15px "Liberation Sans",sans-serif;color:#1f2833;white-space:nowrap;letter-spacing:-0.472px;'>Idling Exceptions</span>
<svg style="position:absolute;left:565.2px;top:622.1px;" width="10" height="10" viewBox="0 0 10 10" fill="none"><circle cx="5" cy="5" r="4.3" stroke="#34506e" stroke-width="1.05"/><path d="M5 4.7 V7.1" stroke="#34506e" stroke-width="1.05" stroke-linecap="round"/><circle cx="5" cy="3" r="0.65" fill="#34506e"/></svg>
<span style='position:absolute;left:483.30px;top:645.90px;height:22px;line-height:22px;font:700 17px/22px "Liberation Sans",sans-serif;color:#0d131b;white-space:nowrap;letter-spacing:0.439px;'>86</span>
<div style="position:absolute;left:509.1px;top:648.0px;width:44.299999999999955px;height:15.6px;background:#e6f8ec;border-radius:7.8px"></div>
<svg style="position:absolute;left:519.3px;top:652.6999999999999px;" width="5" height="6.2" viewBox="0 0 5 6.2" fill="none"><path d="M2.5 0 V5.6000000000000005 M0.5 3.6 L2.5 5.6000000000000005 L4.5 3.6" stroke="#2f6f3a" stroke-width="1.25" stroke-linecap="round" stroke-linejoin="round"/></svg>
<span style='position:absolute;left:527.30px;top:650.00px;height:12px;line-height:12px;font:400 8.8px/12px "Liberation Sans",sans-serif;color:#2f6f3a;white-space:nowrap;letter-spacing:-0.003px;-webkit-text-stroke:0.3px #2f6f3a;'>12%</span>
<div style="position:absolute;left:510px;top:691.6px;width:180px;height:1px;background:#e3e7ec"></div>
<div style="position:absolute;left:510px;top:720.6px;width:180px;height:1px;background:#e3e7ec"></div>
<span style='position:absolute;left:495.40px;top:686.60px;height:12px;line-height:12px;font:400 8.8px/12px "Liberation Sans",sans-serif;color:#4a5560;white-space:nowrap;letter-spacing:-0.298px;'>25</span>
<span style='position:absolute;left:495.40px;top:715.20px;height:12px;line-height:12px;font:400 8.8px/12px "Liberation Sans",sans-serif;color:#4a5560;white-space:nowrap;letter-spacing:-0.298px;'>20</span>
<span style='position:absolute;left:693.20px;top:684.40px;height:12px;line-height:12px;font:400 8.8px/12px "Liberation Sans",sans-serif;color:#4a5560;white-space:nowrap;letter-spacing:-0.229px;'>600</span>
<span style='position:absolute;left:693.20px;top:713.20px;height:12px;line-height:12px;font:400 8.8px/12px "Liberation Sans",sans-serif;color:#4a5560;white-space:nowrap;letter-spacing:-0.229px;'>480</span>
<svg style="position:absolute;left:0px;top:0px;" width="1024" height="724" viewBox="0 0 1024 724" fill="none"><path d="M561 721.2 L599.2 707.4 L630 726" stroke="#d9557c" stroke-width="1.3"/><circle cx="561" cy="721.2" r="2.8" fill="#d6537a"/><circle cx="599.2" cy="707.4" r="2.8" fill="#d6537a"/></svg>
<div style="position:absolute;left:744.8px;top:609.9px;width:262px;height:130px;background:#fff;border:1.4px solid #d0dae5;border-radius:6px;box-sizing:border-box"></div>
<span style='position:absolute;left:756.00px;top:619.70px;height:15px;line-height:15px;font:700 10.4px/15px "Liberation Sans",sans-serif;color:#1f2833;white-space:nowrap;letter-spacing:-0.548px;'>Idling CO2 Emissions by Group</span>
<svg style="position:absolute;left:900.2px;top:622.1px;" width="10" height="10" viewBox="0 0 10 10" fill="none"><circle cx="5" cy="5" r="4.3" stroke="#34506e" stroke-width="1.05"/><path d="M5 4.7 V7.1" stroke="#34506e" stroke-width="1.05" stroke-linecap="round"/><circle cx="5" cy="3" r="0.65" fill="#34506e"/></svg>
<span style='position:absolute;left:759.00px;top:646.00px;height:13px;line-height:13px;font:400 9.1px/13px "Liberation Sans",sans-serif;color:#4e677e;white-space:nowrap;letter-spacing:-0.336px;'>Group</span>
<span style='position:absolute;left:857.50px;top:646.00px;height:13px;line-height:13px;font:400 9.1px/13px "Liberation Sans",sans-serif;color:#4e677e;white-space:nowrap;letter-spacing:-0.096px;'>Idling CO2 Emissions Percentage</span>
<div style="position:absolute;left:756px;top:658.4px;width:239.4px;height:1px;background:#e6ebf1"></div>
<span style='position:absolute;left:759.00px;top:663.30px;height:13px;line-height:13px;font:400 9.1px/13px "Liberation Sans",sans-serif;color:#0b5cb0;white-space:nowrap;letter-spacing:-0.116px;-webkit-text-stroke:0.35px #0b5cb0;'>New York Group</span>
<span style='position:absolute;left:958.40px;top:661.50px;height:18px;line-height:18px;font:400 11.2px/18px "DejaVu Sans Mono","Liberation Mono",monospace;color:#25303c;white-space:nowrap;letter-spacing:-0.017px;-webkit-text-stroke:0.3px #25303c;'>24.8%</span>
<span style='position:absolute;left:759.00px;top:686.40px;height:13px;line-height:13px;font:400 9.1px/13px "Liberation Sans",sans-serif;color:#0b5cb0;white-space:nowrap;letter-spacing:-0.085px;-webkit-text-stroke:0.35px #0b5cb0;'>Hudson Malone</span>
<span style='position:absolute;left:958.40px;top:684.60px;height:18px;line-height:18px;font:400 11.2px/18px "DejaVu Sans Mono","Liberation Mono",monospace;color:#25303c;white-space:nowrap;letter-spacing:-0.017px;-webkit-text-stroke:0.3px #25303c;'>23.9%</span>
<span style='position:absolute;left:759.00px;top:709.00px;height:13px;line-height:13px;font:400 9.1px/13px "Liberation Sans",sans-serif;color:#0b5cb0;white-space:nowrap;letter-spacing:-0.011px;-webkit-text-stroke:0.35px #0b5cb0;'>Toronto Group</span>
<span style='position:absolute;left:958.40px;top:707.20px;height:18px;line-height:18px;font:400 11.2px/18px "DejaVu Sans Mono","Liberation Mono",monospace;color:#25303c;white-space:nowrap;letter-spacing:-0.017px;-webkit-text-stroke:0.3px #25303c;'>23.1%</span>
<div style="position:absolute;left:756px;top:680px;width:239.4px;height:1px;background:#c9d5e2"></div>
<div style="position:absolute;left:756px;top:703px;width:239.4px;height:1px;background:#c9d5e2"></div>
</div>
</body></html>
